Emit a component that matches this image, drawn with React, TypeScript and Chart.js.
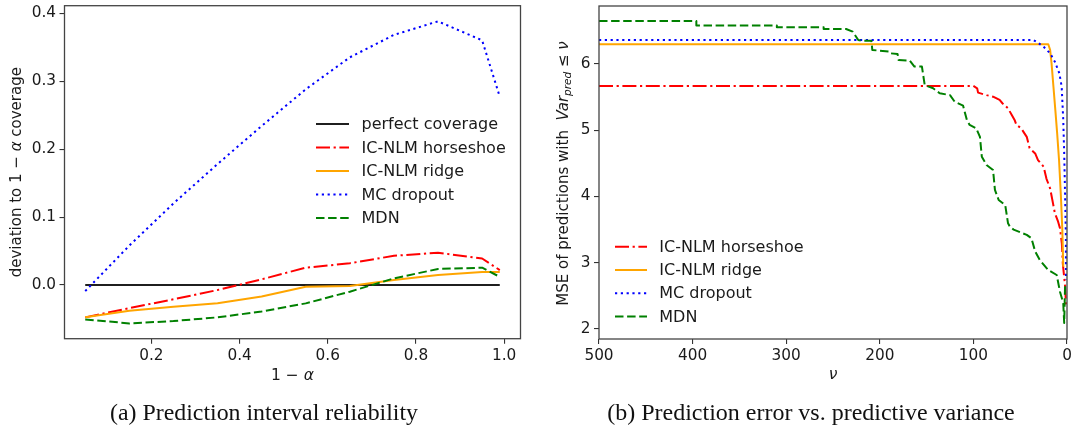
import React, { useEffect, useRef } from 'react';
import { Chart, registerables } from 'chart.js';

Chart.register(...registerables);

// ---------- data: (a) prediction interval reliability ----------
const coverageLevels = [0.05, 0.15, 0.25, 0.35, 0.45, 0.55, 0.65, 0.75, 0.85, 0.95, 0.99];
const perfectDev = [0, 0, 0, 0, 0, 0, 0, 0, 0, 0, 0];
const horseshoeDev = [-0.0476, -0.034, -0.021, -0.0074, 0.0083, 0.0255, 0.032, 0.043, 0.0476, 0.039, 0.022];
const ridgeDev = [-0.0476, -0.038, -0.032, -0.027, -0.017, -0.0025, -0.0015, 0.0074, 0.0147, 0.019, 0.019];
const mcDev = [-0.009, 0.058, 0.12, 0.178, 0.234, 0.288, 0.335, 0.368, 0.388, 0.36, 0.277];
const mdnDev = [-0.0506, -0.0565, -0.053, -0.0476, -0.039, -0.027, -0.0098, 0.0098, 0.0236, 0.0255, 0.012];
const xTicksA = [0.2, 0.4, 0.6, 0.8, 1.0];
const yTicksA = [0.0, 0.1, 0.2, 0.3, 0.4];

// ---------- data: (b) prediction error vs predictive variance ----------
const horseshoeNu = [500, 100, 96, 95, 86, 79, 72, 69, 63, 59, 56, 54, 49, 43, 40, 34, 31, 25, 22, 18, 15, 13, 9.5, 7.5, 5.5, 4.5, 2, 1];
const horseshoeMse = [5.668, 5.668, 5.633, 5.567, 5.53, 5.506, 5.457, 5.407, 5.33, 5.23, 5.155, 5.08, 5.03, 4.9, 4.73, 4.65, 4.55, 4.45, 4.27, 4.12, 3.9, 3.75, 3.62, 3.52, 3.29, 2.99, 2.64, 2.34];
const ridgeNu = [500, 20, 18, 16.5, 14.5, 12.5, 10.5, 8.5, 6.5, 5, 4];
const ridgeMse = [6.297, 6.297, 6.21, 6.01, 5.66, 5.31, 4.95, 4.55, 4.0, 3.5, 2.94];
const mcNu = [500, 36, 31, 25, 18, 13, 8.2, 5.7, 4, 3, 2, 1.2, 1.1];
const mcMse = [6.362, 6.362, 6.32, 6.26, 6.16, 6.035, 5.86, 5.66, 5.155, 4.65, 4.0, 3.4, 2.74];
const mdnNu = [500, 396, 396, 310, 310, 260, 260, 236, 229, 223, 220, 209, 208, 189, 188, 181, 180, 168, 163, 155, 152, 143, 136, 125, 120, 111, 107, 104, 97, 93, 91, 86, 79, 77, 73, 66, 63, 61, 57, 43, 38, 34, 29, 20, 11, 7.5, 4, 3, 2];
const mdnMse = [6.648, 6.648, 6.582, 6.582, 6.554, 6.554, 6.528, 6.528, 6.488, 6.362, 6.352, 6.352, 6.211, 6.186, 6.16, 6.15, 6.06, 6.05, 5.96, 5.96, 5.68, 5.633, 5.558, 5.53, 5.43, 5.37, 5.155, 5.08, 5.03, 4.9, 4.6, 4.475, 4.4, 4.1, 3.947, 3.87, 3.595, 3.545, 3.5, 3.42, 3.37, 3.17, 3.04, 2.89, 2.815, 2.563, 2.39, 2.09, 2.69];
const xTicksB = [0, 100, 200, 300, 400, 500];
const yTicksB = [2, 3, 4, 5, 6];

// ---------- styles ----------
const FONT = '"DejaVu Sans", sans-serif';
const TEXT = '#1a1a1a';
const LW = 2;
const S = {
  perfect: { label: 'perfect coverage', color: '#1f1f1f', dash: [] as number[] },
  horseshoe: { label: 'IC-NLM horseshoe', color: '#ff0000', dash: [14, 3.6, 2.2, 3.6] },
  ridge: { label: 'IC-NLM ridge', color: '#ffa500', dash: [] as number[] },
  mc: { label: 'MC dropout', color: '#0000ff', dash: [2.2, 3.6] },
  mdn: { label: 'MDN', color: '#008000', dash: [8.5, 3.6] },
};

type Part = { t: string; italic?: boolean; scale?: number; dy?: number };

function drawRich(ctx: CanvasRenderingContext2D, parts: Part[], size: number, x: number, y: number, vertical: boolean) {
  ctx.save();
  ctx.translate(x, y);
  if (vertical) ctx.rotate(-Math.PI / 2);
  const fonts = parts.map((p) => `${p.italic ? 'italic ' : ''}${(size * (p.scale ?? 1)).toFixed(2)}px ${FONT}`);
  const widths = parts.map((p, i) => {
    ctx.font = fonts[i];
    return ctx.measureText(p.t).width;
  });
  const total = widths.reduce((a, b) => a + b, 0);
  let cx = -total / 2;
  ctx.textAlign = 'left';
  ctx.textBaseline = 'alphabetic';
  ctx.fillStyle = TEXT;
  parts.forEach((p, i) => {
    ctx.font = fonts[i];
    ctx.fillText(p.t, cx, p.dy ?? 0);
    cx += widths[i];
  });
  ctx.restore();
}

function drawCaption(ctx: CanvasRenderingContext2D, text: string, cx: number, baseline: number, targetW: number) {
  ctx.save();
  ctx.font = '23px "Liberation Serif", "DejaVu Serif", serif';
  const w = ctx.measureText(text).width;
  ctx.translate(cx, baseline);
  ctx.scale(targetW / w, 1);
  ctx.textAlign = 'center';
  ctx.textBaseline = 'alphabetic';
  ctx.fillStyle = '#111';
  ctx.fillText(text, 0, 0);
  ctx.restore();
}

type LegendItem = { label: string; color: string; dash: number[] };

function drawLegend(ctx: CanvasRenderingContext2D, items: LegendItem[], x0: number, len: number, textX: number, y0: number, step: number) {
  ctx.save();
  ctx.font = `16px ${FONT}`;
  ctx.textBaseline = 'middle';
  ctx.textAlign = 'left';
  items.forEach((it, i) => {
    const y = y0 + i * step;
    ctx.save();
    ctx.strokeStyle = it.color;
    ctx.lineWidth = LW;
    ctx.setLineDash(it.dash);
    ctx.beginPath();
    ctx.moveTo(x0, y);
    ctx.lineTo(x0 + len, y);
    ctx.stroke();
    ctx.restore();
    ctx.fillStyle = TEXT;
    ctx.fillText(it.label, textX, y + 1);
  });
  ctx.restore();
}

function boxPlugin() {
  return {
    id: 'box',
    afterDatasetsDraw(chart: any) {
      const { ctx, chartArea: a } = chart;
      ctx.save();
      ctx.strokeStyle = '#444';
      ctx.lineWidth = 1.3;
      ctx.strokeRect(a.left, a.top, a.right - a.left, a.bottom - a.top);
      ctx.restore();
    },
  };
}

function dataset(s: LegendItem, xs: number[], ys: number[], order: number) {
  return {
    label: s.label,
    data: xs.map((x, i) => ({ x, y: ys[i] })),
    borderColor: s.color,
    backgroundColor: s.color,
    borderDash: s.dash,
    borderWidth: LW,
    borderJoinStyle: 'round' as const,
    pointRadius: 0,
    tension: 0,
    fill: false,
    order,
  };
}

function axis(opts: {
  min: number; max: number; ticks: number[]; fmt: (v: number) => string; size: number; horizontal: boolean; reverse?: boolean;
}) {
  return {
    type: 'linear' as const,
    min: opts.min,
    max: opts.max,
    reverse: !!opts.reverse,
    afterBuildTicks: (sc: any) => {
      sc.ticks = opts.ticks.map((v) => ({ value: v }));
    },
    afterFit: (sc: any) => {
      if (opts.horizontal) sc.height = opts.size;
      else sc.width = opts.size;
      sc.paddingTop = 0;
      sc.paddingBottom = 0;
      sc.paddingLeft = 0;
      sc.paddingRight = 0;
    },
    ticks: {
      callback: (v: any) => opts.fmt(Number(v)),
      font: { family: FONT, size: 15.3 },
      color: TEXT,
      padding: opts.horizontal ? 3 : 3.5,
      maxRotation: 0,
      minRotation: 0,
      autoSkip: false,
    },
    grid: { display: true, drawOnChartArea: false, drawTicks: true, tickLength: 5, color: '#333', lineWidth: 1.1 },
    border: { display: false },
    title: { display: false },
  };
}

const H = 427;

export default function App() {
  const refA = useRef<HTMLCanvasElement>(null);
  const refB = useRef<HTMLCanvasElement>(null);

  useEffect(() => {
    const WA = 535;
    const areaA = { left: 64.5, right: 520.5, top: 5.7, bottom: 338.7 };
    const chartA = new Chart(refA.current as HTMLCanvasElement, {
      type: 'line',
      data: {
        datasets: [
          dataset(S.perfect, coverageLevels, perfectDev, 4),
          dataset(S.horseshoe, coverageLevels, horseshoeDev, 3),
          dataset(S.ridge, coverageLevels, ridgeDev, 2),
          dataset(S.mc, coverageLevels, mcDev, 1),
          dataset(S.mdn, coverageLevels, mdnDev, 0),
        ] as any,
      },
      options: {
        animation: false,
        responsive: false,
        devicePixelRatio: 1,
        layout: { padding: { top: areaA.top, right: WA - areaA.right, bottom: 0, left: 0 } },
        plugins: { legend: { display: false }, tooltip: { enabled: false } },
        scales: {
          x: axis({ min: 0.003, max: 1.037, ticks: xTicksA, fmt: (v) => v.toFixed(1), size: H - areaA.bottom, horizontal: true }),
          y: axis({ min: -0.079, max: 0.411, ticks: yTicksA, fmt: (v) => v.toFixed(1), size: areaA.left, horizontal: false }),
        } as any,
      },
      plugins: [
        boxPlugin(),
        {
          id: 'decorA',
          afterDraw(chart: any) {
            const { ctx, chartArea: a } = chart;
            const midY = (a.top + a.bottom) / 2;
            drawRich(ctx, [{ t: 'deviation to 1 − ' }, { t: 'α', italic: true }, { t: ' coverage' }], 15, 21, midY, true);
            drawRich(ctx, [{ t: '1 − ' }, { t: 'α', italic: true }], 15.5, (a.left + a.right) / 2, 380, false);
            drawLegend(ctx, [S.perfect, S.horseshoe, S.ridge, S.mc, S.mdn], a.left + 251.5, 33, a.left + 297, 124, 23.5);
            drawCaption(ctx, '(a) Prediction interval reliability', 264, 419.5, 308);
          },
        },
      ],
    });

    const WB = 565;
    const offB = 535;
    const areaB = { left: 599 - offB, right: 1067 - offB, top: 6, bottom: 339 };
    const chartB = new Chart(refB.current as HTMLCanvasElement, {
      type: 'line',
      data: {
        datasets: [
          dataset(S.horseshoe, horseshoeNu, horseshoeMse, 3),
          dataset(S.ridge, ridgeNu, ridgeMse, 2),
          dataset(S.mc, mcNu, mcMse, 1),
          dataset(S.mdn, mdnNu, mdnMse, 0),
        ] as any,
      },
      options: {
        animation: false,
        responsive: false,
        devicePixelRatio: 1,
        layout: { padding: { top: areaB.top, right: WB - areaB.right, bottom: 0, left: 0 } },
        plugins: { legend: { display: false }, tooltip: { enabled: false } },
        scales: {
          x: axis({ min: 0, max: 500, ticks: xTicksB, fmt: (v) => String(Math.round(v)), size: H - areaB.bottom, horizontal: true, reverse: true }),
          y: axis({ min: 1.849, max: 6.875, ticks: yTicksB, fmt: (v) => String(Math.round(v)), size: areaB.left, horizontal: false }),
        } as any,
      },
      plugins: [
        boxPlugin(),
        {
          id: 'decorB',
          afterDraw(chart: any) {
            const { ctx, chartArea: a } = chart;
            const midY = (a.top + a.bottom) / 2 + 1;
            drawRich(
              ctx,
              [
                { t: 'MSE of predictions with  ' },
                { t: 'Var', italic: true },
                { t: 'pred', italic: true, scale: 0.7, dy: 3.5 },
                { t: ' ≤ ' },
                { t: 'ν', italic: true },
              ],
              15,
              32.5,
              midY,
              true,
            );
            drawRich(ctx, [{ t: 'ν', italic: true }], 15.5, (a.left + a.right) / 2, 379, false);
            drawLegend(ctx, [S.horseshoe, S.ridge, S.mc, S.mdn], a.left + 16, 32, a.left + 60.3, 246.7, 23.3);
            drawCaption(ctx, '(b) Prediction error vs. predictive variance', 811 - offB, 419.5, 407.5);
          },
        },
      ],
    });

    return () => {
      chartA.destroy();
      chartB.destroy();
    };
  }, []);

  return (
    <div style={{ position: 'fixed', left: 0, top: 0, width: 1071, height: H, overflow: 'hidden', background: '#fff' }}>
      <canvas ref={refA} width={535} height={H} style={{ position: 'absolute', left: 0, top: 0, width: 535, height: H }} />
      <canvas ref={refB} width={565} height={H} style={{ position: 'absolute', left: 535, top: 0, width: 565, height: H }} />
    </div>
  );
}
